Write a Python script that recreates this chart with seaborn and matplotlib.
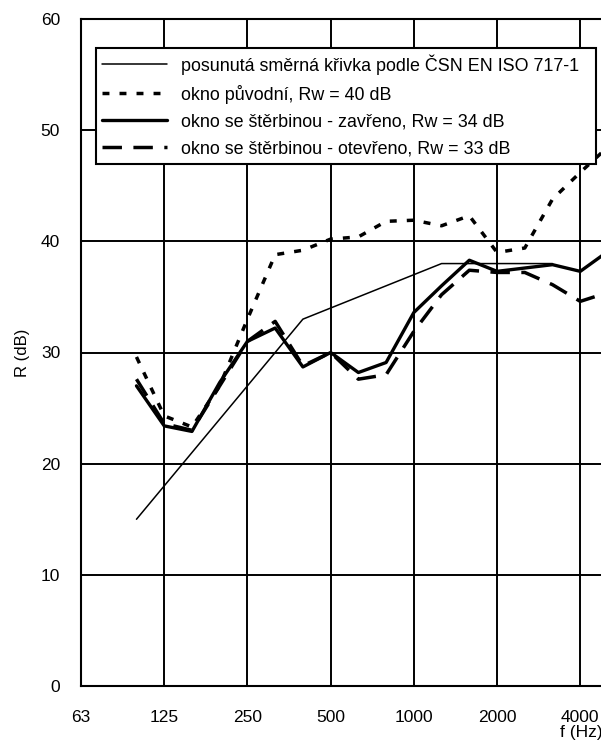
import matplotlib
matplotlib.use("Agg")
import matplotlib.pyplot as plt
import seaborn as sns
import pandas as pd
import numpy as np

# Third-octave band centre frequencies (Hz) and their position on the band axis
freqs = [100, 125, 160, 200, 250, 315, 400, 500, 630, 800, 1000,
         1250, 1600, 2000, 2500, 3150, 4000, 5000]
band_index = [2, 3, 4, 5, 6, 7, 8, 9, 10, 11, 12, 13, 14, 15, 16, 17, 18, 19]

# Shifted reference curve (ISO 717-1), defined 100 Hz - 3150 Hz
ref_curve = [15, 18, 21, 24, 27, 30, 33, 34, 35, 36, 37, 38, 38, 38, 38, 38]

# Measured sound reduction index R (dB)
okno_puvodni = [29.6, 24.3, 23.3, 27.0, 33.0, 38.8, 39.2, 40.2, 40.4, 41.8,
                41.9, 41.4, 42.3, 39.0, 39.4, 43.8, 46.2, 48.5]
zavreno = [27.0, 23.4, 22.9, 27.3, 31.0, 32.2, 28.7, 30.0, 28.2, 29.1,
           33.6, 36.0, 38.3, 37.3, 37.6, 37.9, 37.3, 39.1]
otevreno = [27.6, 23.6, 23.0, 27.0, 31.0, 32.8, 28.8, 30.0, 27.6, 28.0,
            31.9, 35.2, 37.4, 37.2, 37.2, 36.1, 34.6, 35.4]

octave_ticks = [0, 3, 6, 9, 12, 15, 18]
octave_labels = ["63", "125", "250", "500", "1000", "2000", "4000"]

labels = [
    "posunutá směrná křivka podle ČSN EN ISO 717-1",
    "okno původní, Rw = 40 dB",
    "okno se štěrbinou - zavřeno, Rw = 34 dB",
    "okno se štěrbinou - otevřeno, Rw = 33 dB",
]

sns.set_style("white")
plt.rcParams["font.family"] = ["Liberation Sans", "DejaVu Sans"]
plt.rcParams["font.size"] = 12
for key in ["text.color", "axes.labelcolor", "xtick.color", "ytick.color",
            "axes.edgecolor"]:
    plt.rcParams[key] = "black"

fig = plt.figure(figsize=(6.01, 7.42), dpi=100)
ax = fig.add_axes([81 / 601, 56 / 742, 527 / 601, 667 / 742])

df_ref = pd.DataFrame({"x": band_index[:len(ref_curve)], "R": ref_curve})
df_orig = pd.DataFrame({"x": band_index, "R": okno_puvodni})
df_closed = pd.DataFrame({"x": band_index, "R": zavreno})
df_open = pd.DataFrame({"x": band_index, "R": otevreno})

sns.lineplot(data=df_ref, x="x", y="R", ax=ax, color="black", lw=1.1,
             label=labels[0], zorder=5)
sns.lineplot(data=df_orig, x="x", y="R", ax=ax, color="black", lw=2.5,
             label=labels[1], zorder=5)
ax.lines[-1].set_dashes([2.0, 2.9])
sns.lineplot(data=df_closed, x="x", y="R", ax=ax, color="black", lw=2.4,
             label=labels[2], zorder=5)
sns.lineplot(data=df_open, x="x", y="R", ax=ax, color="black", lw=2.5,
             label=labels[3], zorder=5)
ax.lines[-1].set_dashes([5.6, 3.3])

ax.set_xlim(0, 19)
ax.set_ylim(0, 60)
ax.set_xticks(octave_ticks)
ax.set_xticklabels(octave_labels)
ax.set_yticks(range(0, 61, 10))
ax.set_xlabel("")
ax.set_ylabel("R (dB)", fontsize=12, labelpad=8, color="black")

ax.grid(True, color="black", lw=1.4, zorder=1)
ax.set_axisbelow(True)
for side in ["left", "bottom", "top", "right"]:
    ax.spines[side].set_color("black")
    ax.spines[side].set_linewidth(1.5)
ax.tick_params(axis="both", which="major", direction="out", length=4,
               width=1.2, color="black", labelcolor="black", labelsize=12.5)
ax.tick_params(axis="y", pad=11)
ax.tick_params(axis="x", pad=13)

fig.text(581 / 601, 1 - 733 / 742, "f (Hz)", fontsize=12.5, ha="center",
         va="center", color="black")

# Legend box spanning most of the plot width near the top
leg_x0 = (96 - 81) / 527
leg_top = (686 - 48) / 667
leg_w = (596 - 96) / 527
leg_h = (162 - 48) / 667
leg = ax.legend(loc="upper left",
                bbox_to_anchor=(leg_x0, leg_top - leg_h, leg_w, leg_h),
                mode="expand",
                frameon=True, fancybox=False, shadow=False, fontsize=12.9,
                handlelength=3.6, handletextpad=0.8, labelspacing=0.55,
                borderpad=0.35, borderaxespad=0)
leg.get_frame().set_edgecolor("black")
leg.get_frame().set_linewidth(1.5)
leg.get_frame().set_alpha(1)
leg.set_zorder(10)
for txt in leg.get_texts():
    txt.set_color("black")

fig.savefig("out.png", dpi=100)
